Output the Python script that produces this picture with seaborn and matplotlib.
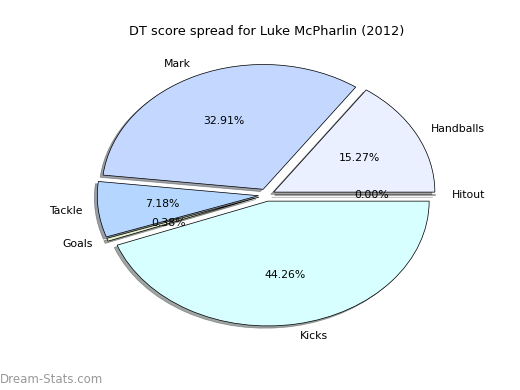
import matplotlib
matplotlib.use("Agg")
import matplotlib.pyplot as plt
import seaborn as sns

# slice data (percent of DT score)
labels = ["Handballs", "Mark", "Tackle", "Goals", "Kicks", "Hitout"]
shares = [15.27, 32.91, 7.18, 0.38, 44.26, 0.0]
colors = ["#eaf0ff", "#c4d8ff", "#b4d6ff", "#e4f4d0", "#d8ffff", "#ffffff"]

sns.set_style("white")
plt.rcParams["font.family"] = ["DejaVu Sans"]
plt.rcParams["font.size"] = 12
plt.rcParams["text.color"] = "black"

fig = plt.figure(figsize=(8, 6), dpi=65)
ax = fig.add_axes([0.125, 0.1, 0.775, 0.8])

ax.pie(shares, labels=labels, colors=colors, explode=[0.05] * len(shares),
       autopct="%1.2f%%", shadow=True, startangle=0,
       wedgeprops={"edgecolor": "black", "linewidth": 0.8},
       textprops={"fontsize": 12, "color": "black"})
ax.set_aspect("auto")
ax.set_xlim(-1.25, 1.25)
ax.set_ylim(-1.25, 1.25)
ax.set_title("DT score spread for Luke McPharlin (2012)", fontsize=14.3, pad=4, color="black")

# watermark
fig.text(0.0, 0.01, "Dream-Stats.com", color="#999999", fontsize=13, ha="left", va="bottom")

fig.savefig("out.png", dpi=65)
